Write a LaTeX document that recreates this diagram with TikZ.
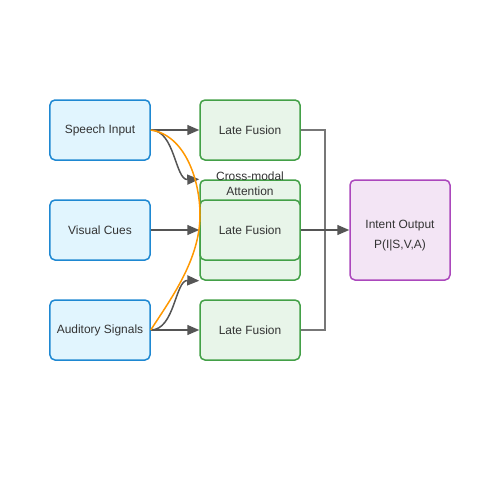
\documentclass[tikz,border=0pt]{standalone}
\usepackage{fontspec}
\setmainfont{Liberation Sans}
\usepackage{xcolor}
\usetikzlibrary{arrows.meta}

\definecolor{inblue}{HTML}{E1F5FE}
\definecolor{inbluedraw}{HTML}{1E88D2}
\definecolor{fusegreen}{HTML}{E8F5E9}
\definecolor{fusegreendraw}{HTML}{43A047}
\definecolor{outpurple}{HTML}{F3E5F5}
\definecolor{outpurpledraw}{HTML}{AB47BC}
\definecolor{linegray}{HTML}{555555}
\definecolor{elbowgray}{HTML}{777777}
\definecolor{crossorange}{HTML}{FF9800}
\definecolor{txtgray}{HTML}{333333}

\tikzset{
  box/.style={rounded corners=1mm, line width=0.3mm, minimum width=20mm,
    minimum height=12mm, inner sep=0pt, text=txtgray,
    font=\fontsize{6.8}{8.5}\selectfont},
  inputbox/.style={box, fill=inblue, draw=inbluedraw},
  fusebox/.style={box, fill=fusegreen, draw=fusegreendraw},
  outbox/.style={box, fill=outpurple, draw=outpurpledraw, minimum height=20mm},
  feed/.style={line width=0.3mm, draw=linegray,
    -{Triangle[length=2.4mm,width=2mm]}},
  elbow/.style={line width=0.3mm, draw=elbowgray}
}

\begin{document}
\begin{tikzpicture}[x=0.2mm, y=-0.2mm]
        \useasboundingbox (0,0) rectangle (500,500);

        % Inputs
        \node[inputbox] (speech) at (100,130) {Speech Input};
        \node[inputbox] (visual) at (100,230) {Visual Cues};
        \node[inputbox] (audio) at (100,330) {Auditory Signals};

        % Cross-modal attention block, behind the middle fusion
        \node[fusebox, minimum height=20mm] (attn) at (250,230) {};
        \node[text=txtgray, align=center, font=\fontsize{6.8}{8.5}\selectfont]
            (attnlabel) at (250,183.5) {Cross-modal\\Attention};

        % Fusion
        \node[fusebox] (fuseA) at (250,130) {Late Fusion};
        \node[fusebox] (fuseB) at (250,230) {Late Fusion};
        \node[fusebox] (fuseC) at (250,330) {Late Fusion};

        % Output
        \node[outbox, label={[text=txtgray, align=center, yshift=-1.2mm,
            font=\fontsize{6.8}{11.4}\selectfont]center:Intent Output\\P(I|S,V,A)}]
            (intent) at (400,230) {};

        % Straight feeds
        \draw[feed] (speech.east) -- (fuseA.west);
        \draw[feed] (visual.east) -- (fuseB.west);
        \draw[feed] (audio.east) -- (fuseC.west);

        % Feeds into attention
        \draw[feed] (speech.east) .. controls (175,130) and (175,180) .. (attn.north west);
        \draw[feed] (audio.east) .. controls (175,330) and (175,280) .. (attn.south west);

        % Cross-modal link
        \draw[line width=0.3mm, crossorange] (speech.east)
            .. controls (185,135) and (200,180) .. (200,215)
            .. controls (200,260) and (170,300) .. (audio.east);

        % Merge to output
        \draw[elbow] (fuseA.east) -- (325,130) -- (325,330) -- (fuseC.east);
        \draw[feed] (fuseB.east) -- (intent.west);
    \end{tikzpicture}
\end{document}
